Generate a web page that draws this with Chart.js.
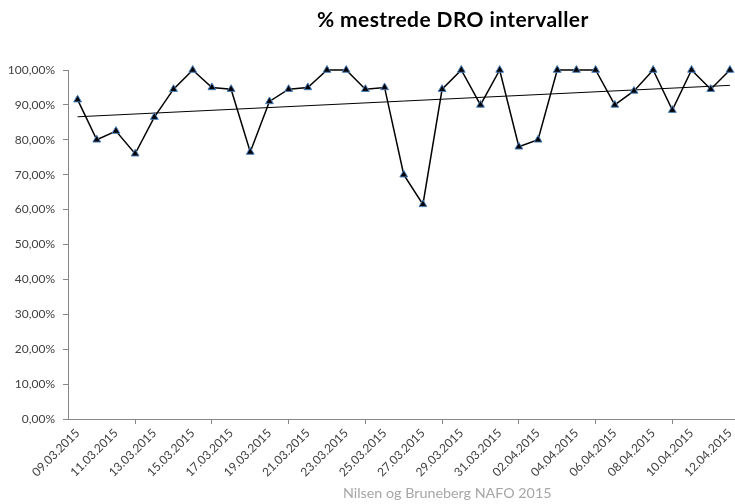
<!DOCTYPE html>
<html>
<head>
<meta charset="utf-8">
<script src="https://cdn.jsdelivr.net/npm/chart.js@4/dist/chart.umd.min.js"></script>
<style>
  html, body { margin: 0; padding: 0; overflow: hidden; background: #fff; }
  #wrap { position: relative; width: 745px; height: 504px; }
  #chartTitle {
    position: absolute; left: 317px; top: 6px;
    font: bold 21px Lato, "Liberation Sans", sans-serif; color: #000;
    letter-spacing: 0.4px; white-space: nowrap;
  }
  #chartFoot {
    position: absolute; left: 343px; top: 484px;
    font: 14.3px Lato, "Liberation Sans", sans-serif; color: #a6a6a6;
    white-space: nowrap;
  }
</style>
</head>
<body>
<div id="wrap">
  <canvas id="droChart" width="745" height="504"></canvas>
  <div id="chartTitle">% mestrede DRO intervaller</div>
  <div id="chartFoot">Nilsen og Bruneberg NAFO 2015</div>
</div>
<script>
/**the days of the sessions */
const dates = [
  "09.03.2015", "10.03.2015", "11.03.2015", "12.03.2015", "13.03.2015",
  "14.03.2015", "15.03.2015", "16.03.2015", "17.03.2015", "18.03.2015",
  "19.03.2015", "20.03.2015", "21.03.2015", "22.03.2015", "23.03.2015",
  "24.03.2015", "25.03.2015", "26.03.2015", "27.03.2015", "28.03.2015",
  "29.03.2015", "30.03.2015", "31.03.2015", "01.04.2015", "02.04.2015",
  "03.04.2015", "04.04.2015", "05.04.2015", "06.04.2015", "07.04.2015",
  "08.04.2015", "09.04.2015", "10.04.2015", "11.04.2015", "12.04.2015",
];
/**% of mastered DRO intervals each day */
const masteredPercent = [
  91.5, 80, 82.5, 76, 86.5, 94.5, 100, 95, 94.5, 76.5,
  91, 94.5, 95, 100, 100, 94.5, 95, 70, 61.5, 94.5,
  100, 90, 100, 78, 80, 100, 100, 100, 90, 94,
  100, 88.5, 100, 94.5, 100,
];
/**linear trend line, start and end values */
const trendPoints = [
  { x: "09.03.2015", y: 86.6 },
  { x: "12.04.2015", y: 95.6 },
];
/**y axis */
const Y_MIN = 0;
const Y_MAX = 100;
const Y_STEP = 10;

const AXIS_GREY = "#868686";
const LABEL_COLOR = "#404040";
const FONT = "Lato, 'Liberation Sans', sans-serif";

/**
 * format a tick like excel does in norwegian
 * @param {number} v value in percent
 * @returns {string} e.g. 90,00%
 */
const percentLabel = (v) => v.toFixed(2).replace(".", ",") + "%";

const ctx = document.getElementById("droChart").getContext("2d");
const droChart = new Chart(ctx, {
  type: "line",
  data: {
    labels: dates,
    datasets: [
      {
        label: "% mestrede",
        data: masteredPercent,
        borderColor: "#000",
        borderWidth: 1.5,
        tension: 0,
        clip: false,
        pointStyle: "triangle",
        pointRadius: 4.5,
        pointBackgroundColor: "#000",
        pointBorderColor: "#4a7ebb",
        pointBorderWidth: 1,
      },
      {
        label: "trend",
        data: trendPoints,
        borderColor: "#000",
        borderWidth: 1,
        pointRadius: 0,
        spanGaps: true,
      },
    ],
  },
  options: {
    responsive: false,
    animation: false,
    events: [],
    devicePixelRatio: 1,
    layout: { padding: { top: 70, right: 3, left: 0, bottom: 0 } },
    plugins: {
      legend: { display: false },
      tooltip: { enabled: false },
    },
    scales: {
      x: {
        offset: true,
        grid: {
          offset: true,
          drawOnChartArea: false,
          drawTicks: true,
          tickLength: 5,
          tickColor: (c) => (c.index % 2 === 0 ? AXIS_GREY : "rgba(0,0,0,0)"),
        },
        border: { display: true, color: AXIS_GREY, width: 1 },
        ticks: {
          autoSkip: false,
          maxRotation: 45,
          minRotation: 45,
          padding: 2,
          color: LABEL_COLOR,
          font: { family: FONT, size: 12 },
          callback: (v, i) => (i % 2 === 0 ? dates[i] : null),
        },
        afterFit: (scale) => {
          scale.height = 85;
        },
      },
      y: {
        min: Y_MIN,
        max: Y_MAX,
        grid: {
          drawOnChartArea: false,
          drawTicks: true,
          tickLength: 5,
          tickColor: AXIS_GREY,
        },
        border: { display: true, color: AXIS_GREY, width: 1 },
        ticks: {
          stepSize: Y_STEP,
          padding: 8,
          color: LABEL_COLOR,
          font: { family: FONT, size: 12 },
          callback: (v) => percentLabel(v),
        },
        afterFit: (scale) => {
          scale.width = 68;
        },
      },
    },
  },
});
</script>
</body>
</html>
